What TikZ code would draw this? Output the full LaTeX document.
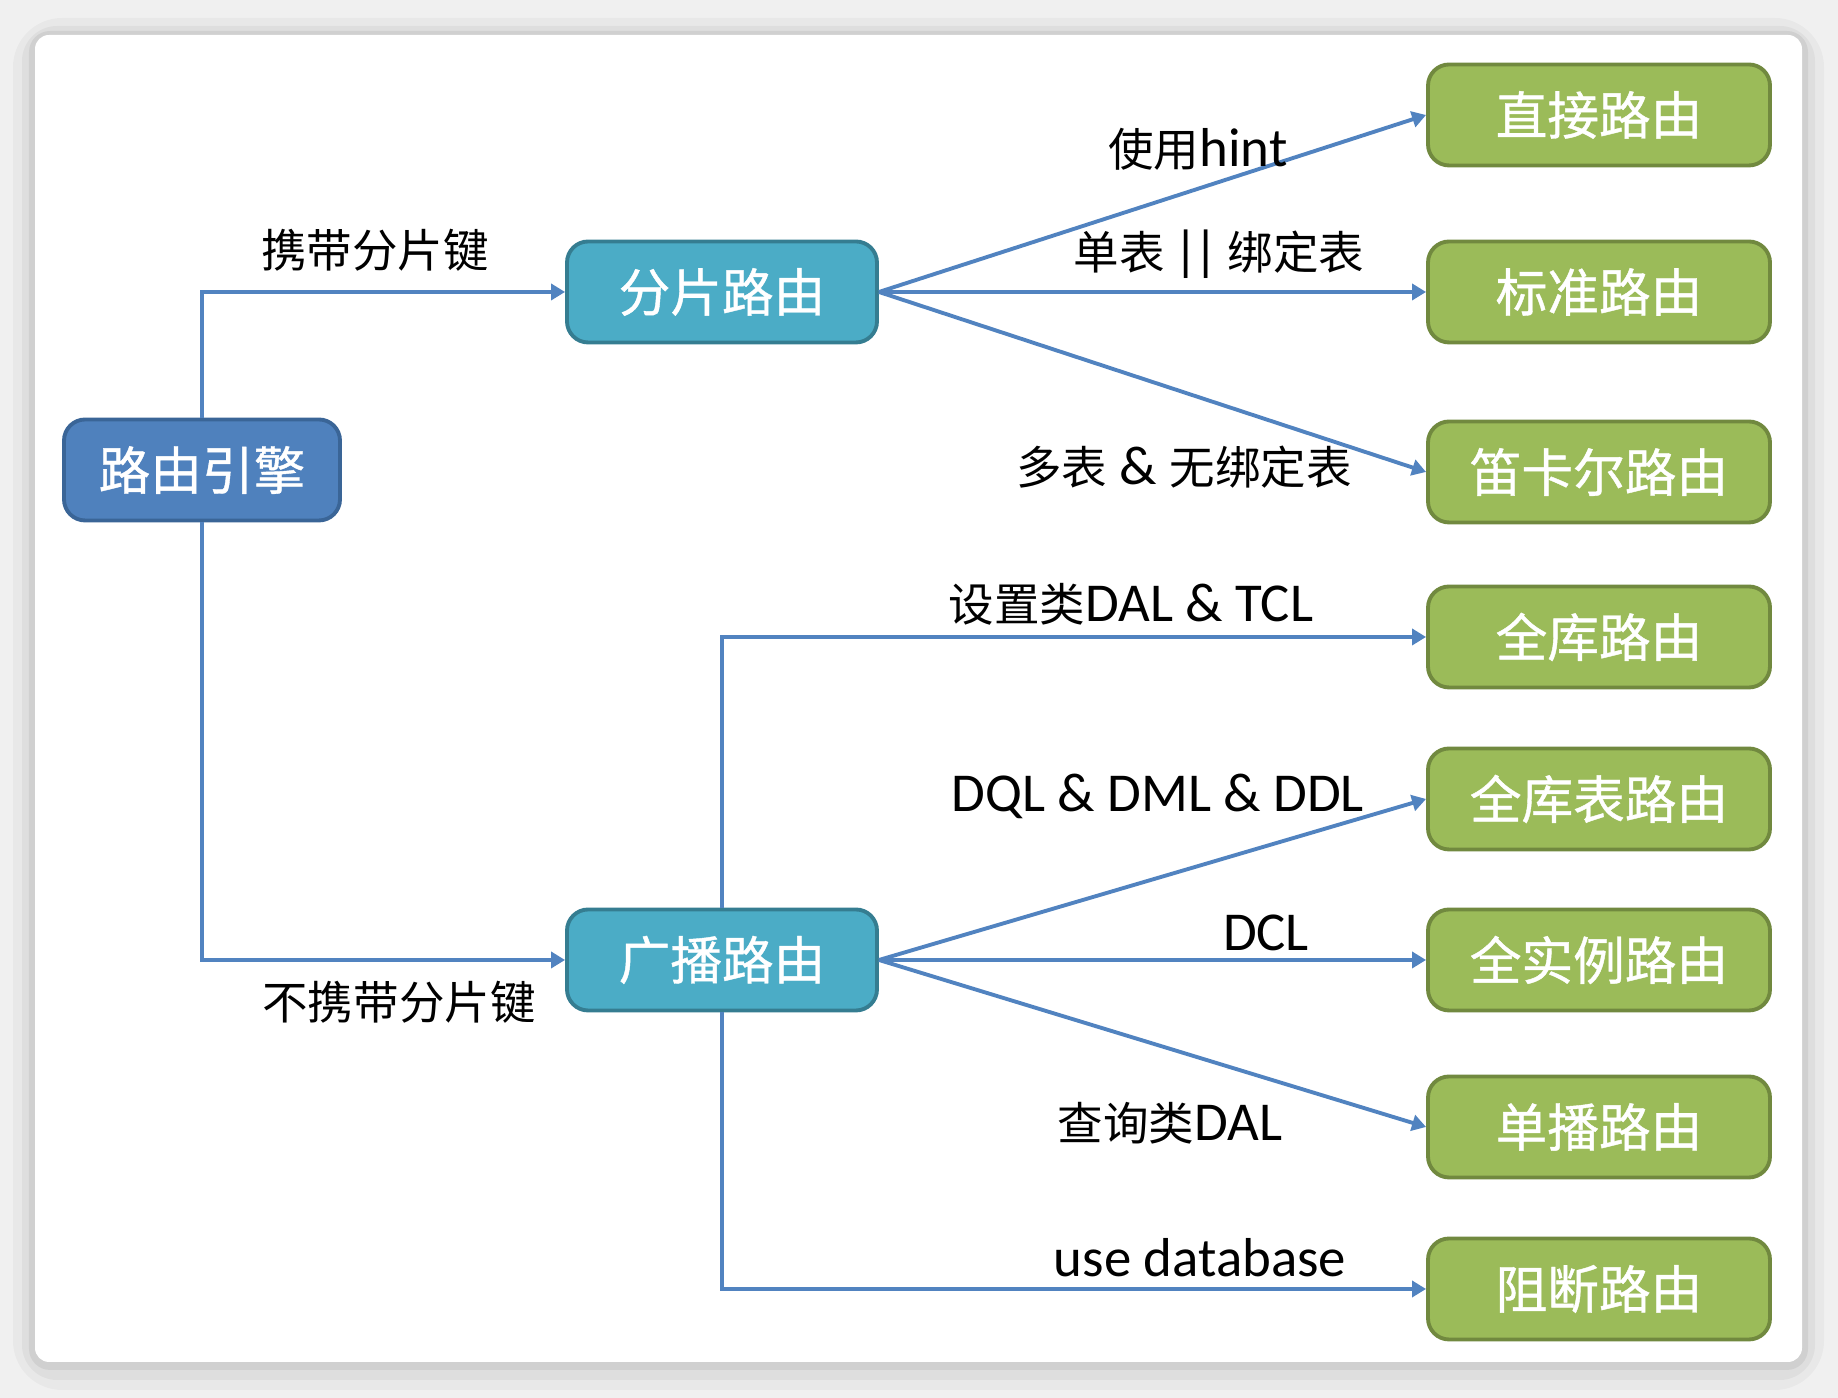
\documentclass[tikz,border=0pt]{standalone}
\usepackage{fontspec}
\setmainfont{Carlito}
\newfontfamily\cjk{Noto Sans CJK SC}[Scale=0.83]
\newfontfamily\boxcjk{Noto Sans CJK SC}[FakeBold=0.8]
\usepackage{tikz}
\usetikzlibrary{arrows.meta,positioning}
\definecolor{engineBlue}{HTML}{4F81BD}
\definecolor{engineDark}{HTML}{3A6597}
\definecolor{shardTeal}{HTML}{4BACC6}
\definecolor{shardDark}{HTML}{357D91}
\definecolor{leafGreen}{HTML}{9BBB59}
\definecolor{leafDark}{HTML}{71893F}
\definecolor{linkBlue}{HTML}{5183C0}
\definecolor{pageGray}{HTML}{F0F0F0}

\begin{document}
\begin{tikzpicture}[
        boxtext/.style={text=white, font=\boxcjk\fontsize{14.7}{16}\selectfont, line width=1.1pt, rounded corners=6pt, minimum height=1.01cm},
        engine/.style={boxtext, draw=engineDark, fill=engineBlue, minimum width=2.76cm},
        mode/.style={boxtext, draw=shardDark, fill=shardTeal, minimum width=3.1cm},
        leaf/.style={boxtext, draw=leafDark, fill=leafGreen, minimum width=3.42cm},
        lbl/.style={inner sep=0pt, font=\fontsize{15.6}{18}\selectfont},
        link/.style={-{Triangle[length=0.14cm, width=0.16cm]}, draw=linkBlue, line width=1.1pt}
    ]
        \useasboundingbox (0,0) rectangle (18.38,13.98);
        % page and card
        \fill[pageGray] (0,0) rectangle (18.38,13.98);
        \fill[black, opacity=0.03, rounded corners=14pt] (0.13,0.08) rectangle (18.24,13.80);
        \fill[black, opacity=0.04, rounded corners=10pt] (0.22,0.18) rectangle (18.15,13.72);
        \fill[black, opacity=0.06, rounded corners=6pt] (0.29,0.28) rectangle (18.08,13.67);
        \fill[white, rounded corners=4pt] (0.35,0.36) rectangle (18.02,13.63);

        \node[engine] (engine) at (2.02,9.28) {路由引擎};
        \node[mode] (shard) at (7.22,11.06) {分片路由};
        \node[mode] (bcast) at (7.22,4.38) {广播路由};

        \node[leaf] (direct) at (15.99,12.83) {直接路由};
        \node[leaf] (standard) at (15.99,11.06) {标准路由};
        \node[leaf] (cartesian) at (15.99,9.26) {笛卡尔路由};
        \node[leaf] (alldb) at (15.99,7.61) {全库路由};
        \node[leaf] (alltbl) at (15.99,5.99) {全库表路由};
        \node[leaf] (allinst) at (15.99,4.38) {全实例路由};
        \node[leaf] (unicast) at (15.99,2.71) {单播路由};
        \node[leaf] (block) at (15.99,1.09) {阻断路由};

        \draw[link] (engine.north) |- (shard.west);
        \draw[link] (engine.south) |- (bcast.west);
        \draw[link] (shard.east) -- (direct.west);
        \draw[link] (shard.east) -- (standard.west);
        \draw[link] (shard.east) -- (cartesian.west);
        \draw[link] (bcast.north) |- (alldb.west);
        \draw[link] (bcast.east) -- (alltbl.west);
        \draw[link] (bcast.east) -- (allinst.west);
        \draw[link] (bcast.east) -- (unicast.west);
        \draw[link] (bcast.south) |- (block.west);

        % edge labels
        \node[lbl] (withkey) at (3.75,11.48) {\cjk 携带分片键};
        \node[lbl] (nokey) at (3.99,3.96) {\cjk 不携带分片键};
        \node[lbl] (hint) at (11.98,12.49) {{\cjk 使用}hint};
        \node[lbl] (single) at (12.19,11.44) {{\cjk 单表}\kern-1pt\ |\kern-1.5pt|\kern-1pt\ {\cjk 绑定表}};
        \node[lbl] (multi) at (11.84,9.31) {{\cjk 多表} \& {\cjk 无绑定表}};
        \node[lbl] (setdal) at (11.31,7.94) {{\cjk 设置类}DAL \& TCL};
        \node[lbl] (dql) at (11.58,6.02) {DQL \& DML \& DDL};
        \node[lbl] (dcl) at (12.66,4.65) {DCL};
        \node[lbl] (querydal) at (11.70,2.75) {{\cjk 查询类}DAL};
        \node[lbl] (usedb) at (12.00,1.40) {use database};
    \end{tikzpicture}
\end{document}
